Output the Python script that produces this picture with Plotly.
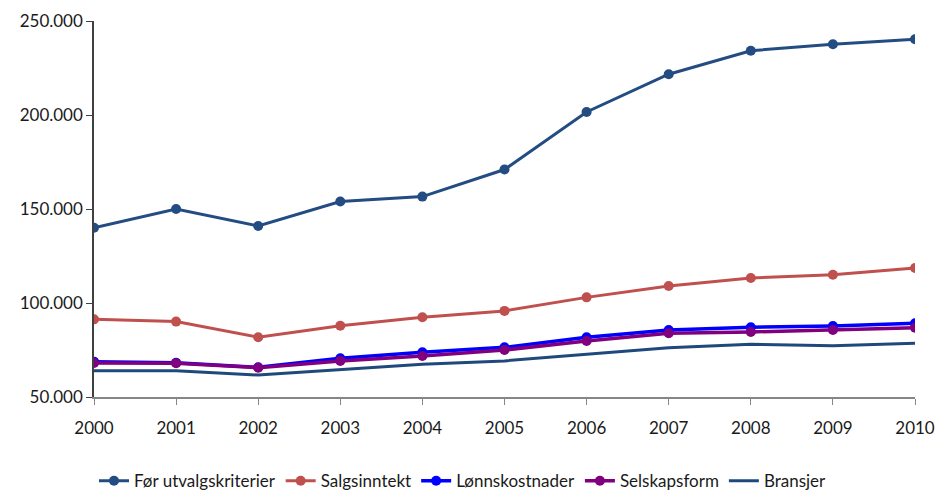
import plotly.graph_objects as go

years = [2000, 2001, 2002, 2003, 2004, 2005, 2006, 2007, 2008, 2009, 2010]

for_utvalg = [140000, 150000, 141000, 154000, 156600, 171000, 201600, 221700, 234200, 237600, 240300]
salgsinntekt = [91300, 90100, 81800, 87900, 92400, 95800, 103000, 109000, 113300, 115000, 118600]
lonnskostnader = [68800, 68200, 65800, 70600, 73800, 76400, 81800, 85600, 87100, 87800, 89200]
selskapsform = [68100, 68000, 65600, 69200, 71800, 75000, 79800, 83900, 84600, 85600, 86900]
bransjer = [64000, 64000, 61700, 64700, 67400, 69200, 72900, 76200, 78000, 77300, 78600]

series = [
    ("Før utvalgskriterier", for_utvalg, "#234C82", 3, True),
    ("Salgsinntekt", salgsinntekt, "#C0504D", 3, True),
    ("Lønnskostnader", lonnskostnader, "#0000FF", 3.5, True),
    ("Selskapsform", selskapsform, "#800080", 3.5, True),
    ("Bransjer", bransjer, "#1F497D", 3, False),
]

fig = go.Figure()
for name, vals, color, width, markers in series:
    fig.add_trace(go.Scatter(
        x=years, y=vals, name=name,
        mode="lines+markers" if markers else "lines",
        line=dict(color=color, width=width),
        marker=dict(color=color, size=10, symbol="circle"),
    ))

font_family = "Lato, Open Sans, sans-serif"

fig.update_layout(
    width=938, height=491,
    margin=dict(l=94, r=23, t=21, b=94, autoexpand=False),
    paper_bgcolor="white", plot_bgcolor="white",
    separators=",.",
    font=dict(family=font_family, size=17, color="#1a1a1a"),
    showlegend=True,
    legend=dict(
        orientation="h", x=94 / 938, xref="container", xanchor="left",
        y=0.02, yref="container", yanchor="middle",
        font=dict(family="Liberation Sans Narrow, Lato, sans-serif", size=17, color="#1a1a1a"),
        itemwidth=30, traceorder="normal",
    ),
    xaxis=dict(
        range=[2000, 2010], tickmode="array", tickvals=years,
        ticktext=[str(y) for y in years],
        showgrid=False, zeroline=False,
        showline=True, linecolor="#868686", linewidth=1.5,
        ticks="outside", ticklen=6, tickcolor="#868686",
        ticklabelstandoff=9,
    ),
    yaxis=dict(
        range=[50000, 250000], tickmode="linear", tick0=50000, dtick=50000,
        tickformat=",d",
        showgrid=False, zeroline=False,
        showline=True, linecolor="#404040", linewidth=1.5,
        ticks="outside", ticklen=6, tickcolor="#404040",
    ),
)

fig.write_html("out.html")
